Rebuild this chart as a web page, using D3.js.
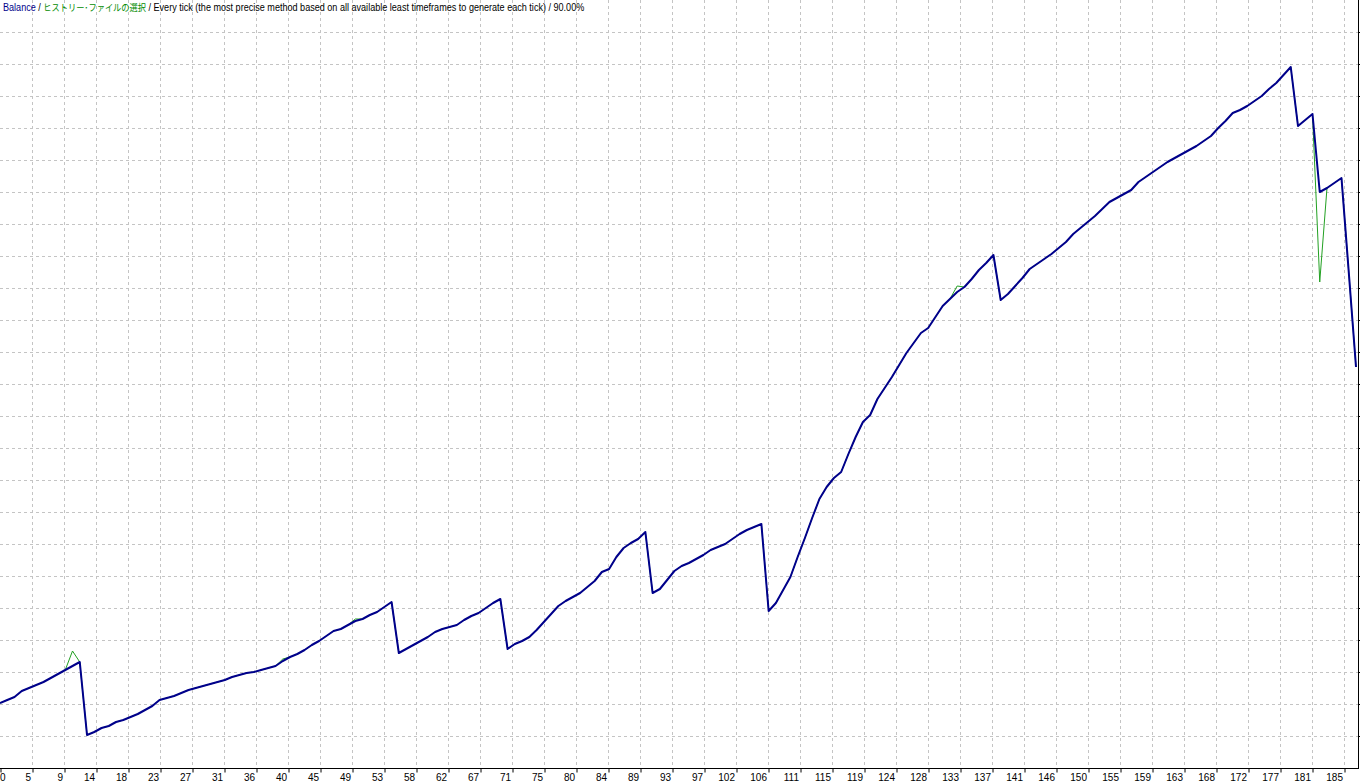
<!DOCTYPE html>
<html><head><meta charset="utf-8">
<script src="https://cdn.jsdelivr.net/npm/d3@7"></script>
<style>
html,body{margin:0;padding:0;background:#fff;overflow:hidden}
svg{display:block}
</style></head><body>
<svg id="chart" width="1360" height="784"></svg>
<script>
// x-axis tick labels (trade numbers), one per grid column
const tickLabels = [0,5,9,14,18,23,27,31,36,40,45,49,53,58,62,67,71,75,80,84,89,93,97,102,106,111,115,119,124,128,133,137,141,146,150,155,159,163,168,172,177,181,185];

// balance after each trade
const balance = [
  1625,1700,1775,1925,2000,2075,2150,2250,2350,2450,
  2550,2650,825,900,1000,1050,1150,1200,1275,1350,
  1450,1550,1700,1750,1800,1875,1950,2000,2050,2100,
  2150,2200,2275,2325,2375,2400,2450,2500,2550,2675,
  2775,2850,2950,3075,3175,3300,3425,3475,3575,3675,
  3725,3825,3900,4025,4150,2875,2975,3075,3175,3275,
  3400,3475,3525,3575,3700,3800,3875,4000,4125,4225,
  2975,3100,3175,3275,3450,3650,3850,4050,4175,4275,
  4375,4525,4675,4900,4975,5275,5500,5625,5725,5900,
  4375,4475,4700,4925,5050,5125,5225,5325,5450,5525,
  5600,5725,5850,5950,6025,6100,3925,4125,4450,4775,
  5275,5750,6250,6725,7025,7250,7400,7850,8275,8650,
  8825,9225,9500,9775,10075,10375,10625,10875,11000,11275,
  11550,11725,11900,12025,12225,12450,12625,12825,11700,11850,
  12050,12250,12475,12600,12725,12850,13000,13150,13350,13500,
  13650,13800,13975,14150,14250,14350,14450,14650,14775,14900,
  15025,15150,15250,15350,15450,15550,15675,15800,16000,16175,
  16375,16450,16550,16675,16800,16975,17125,17325,17525,16050,
  16200,16350,14400,14500,14625,14750,12400,10025
];

// equity at each trade
const equity = [
  1625,1700,1775,1925,2000,2075,2150,2250,2350,2450,
  2925,2650,825,900,1000,1050,1150,1200,1275,1350,
  1450,1550,1700,1750,1800,1875,1950,2000,2050,2100,
  2150,2200,2275,2325,2375,2400,2450,2500,2550,2725,
  2775,2850,2950,3075,3175,3300,3425,3475,3575,3725,
  3725,3825,3900,4025,4150,2875,2975,3075,3175,3275,
  3400,3475,3525,3575,3700,3800,3875,4000,4125,4225,
  2975,3100,3175,3275,3450,3650,3850,4050,4175,4275,
  4375,4525,4675,4900,4975,5275,5500,5625,5725,5900,
  4375,4475,4700,4925,5050,5125,5225,5325,5450,5525,
  5600,5725,5850,5950,6025,6100,3925,4125,4450,4775,
  5275,5750,6250,6725,7025,7250,7400,7850,8275,8650,
  8825,9225,9500,9775,10075,10375,10625,10875,11000,11275,
  11550,11725,12050,12025,12225,12450,12625,12825,11700,11850,
  12050,12250,12475,12600,12725,12850,13000,13150,13350,13500,
  13650,13800,13975,14150,14250,14350,14450,14650,14775,14900,
  15025,15150,15250,15350,15450,15550,15675,15800,16000,16175,
  16375,16450,16550,16675,16800,16975,17125,17325,17525,16050,
  16200,16350,12150,14500,14625,14750,12400,10025
];

// title pieces
const titleParts = ["Balance", " / ", "ヒストリー･ファイルの選択", " / Every tick (the most precise method based on all available least timeframes to generate each tick) / 90.00%"];
const titleColors = ["#00008b", "#000", "#008a00", "#000"];

const yMax = 19200, yStep = 800;

const svg = d3.select("#chart");
const plotRight = 1358, plotBottom = 768;

const x = d3.scaleLinear().domain([0, balance.length - 1]).range([0, 1356]);
const xTick = d3.scaleLinear().domain([0, tickLabels.length - 1]).range([0, 1344]);
const y = d3.scaleLinear().domain([0, yMax]).range([plotBottom, 0]);

const yGrid = d3.range(yStep, yMax, yStep);
const xGrid = d3.range(1, tickLabels.length);

// grid
const grid = svg.append("g").attr("stroke", "#c4c4c4").attr("stroke-width", 1)
  .attr("stroke-dasharray", "3,3").attr("shape-rendering", "crispEdges");
grid.selectAll("line.v").data(xGrid).join("line").attr("class", "v")
  .attr("x1", d => xTick(d) + 0.5).attr("x2", d => xTick(d) + 0.5)
  .attr("y1", 0).attr("y2", plotBottom);
grid.selectAll("line.h").data(yGrid).join("line").attr("class", "h")
  .attr("x1", 0).attr("x2", plotRight)
  .attr("y1", d => Math.round(y(d)) + 0.5).attr("y2", d => Math.round(y(d)) + 0.5);

// lines
const line = d3.line().x((d, i) => x(i)).y(d => y(d));
svg.append("path").datum(equity).attr("d", line)
  .attr("fill", "none").attr("stroke", "#22a022").attr("stroke-width", 1);
svg.append("path").datum(balance).attr("d", line)
  .attr("fill", "none").attr("stroke", "#00008b").attr("stroke-width", 2)
  .attr("stroke-linejoin", "round");

// bottom axis
const xAxis = d3.axisBottom(xTick).tickValues(d3.range(tickLabels.length))
  .tickFormat(k => tickLabels[k]).tickSize(4).tickSizeOuter(0);
const gx = svg.append("g").attr("transform", `translate(0.5,${plotBottom + 0.5})`).call(xAxis);
gx.select(".domain").remove();
gx.append("line").attr("x1", -0.5).attr("x2", plotRight).attr("y1", 0).attr("y2", 0).attr("stroke", "#000");
gx.selectAll(".tick line").attr("stroke", "#000");
gx.selectAll(".tick text")
  .attr("font-family", "'Liberation Sans', Arial, sans-serif").attr("font-size", 10)
  .attr("fill", "#000").attr("y", 12).attr("dy", 0)
  .attr("text-anchor", (d) => d === 0 ? "start" : "end")
  .attr("x", (d) => d === 0 ? -1 : -2);

// right axis
const yAxis = d3.axisRight(y).tickValues(yGrid).tickFormat("").tickSize(4).tickSizeOuter(0);
const gy = svg.append("g").attr("transform", `translate(${plotRight + 0.5},0)`).call(yAxis);
gy.select(".domain").remove();
gy.append("line").attr("x1", 0).attr("x2", 0).attr("y1", 0).attr("y2", plotBottom + 1).attr("stroke", "#000");
gy.selectAll(".tick line").attr("stroke", "#000");

// title (one text, narrowed horizontally like the original UI font)
const title = svg.append("text").attr("transform", "translate(3,11) scale(0.865,1)")
  .attr("font-family", "'Liberation Sans', Arial, sans-serif").attr("font-size", 10.5);
title.selectAll("tspan").data(titleParts).join("tspan")
  .attr("fill", (d, i) => titleColors[i])
  .attr("font-family", (d, i) => i === 2 ? "'Noto Sans CJK JP', sans-serif" : null)
  .attr("font-size", (d, i) => i === 2 ? 9.5 : null)
  .text(d => d);
</script>
</body></html>
